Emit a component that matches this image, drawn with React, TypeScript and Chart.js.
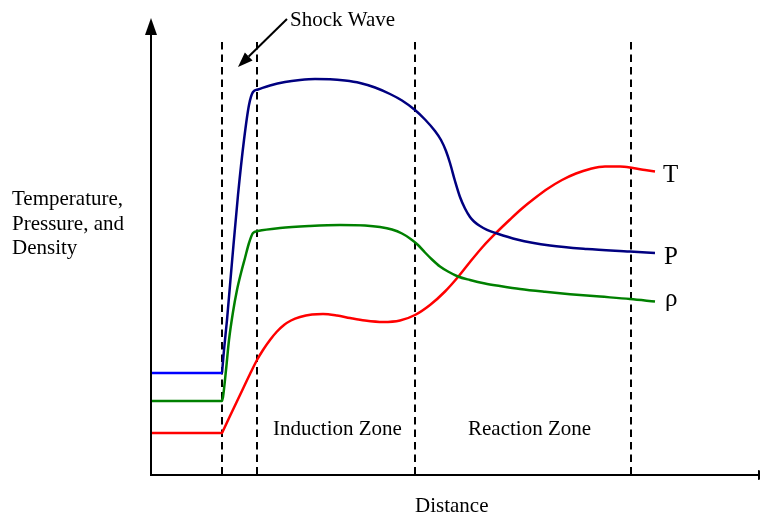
import React, { useEffect, useRef } from 'react';
import { Chart, registerables } from 'chart.js';

Chart.register(...registerables);

// Distance (arbitrary units) and values (arbitrary units)
const pressureX = [0, 72, 72.3, 74, 77, 82, 88, 94, 99, 103, 108, 120, 135, 150, 165, 180, 195, 210, 225, 240, 252, 265, 275, 285, 291, 296, 300, 305, 310, 315, 320, 324, 330, 337, 347, 367, 400, 437, 480, 505];
const pressureY = [101, 101, 104.5, 124, 154, 212, 279, 334, 369, 382, 384.5, 388.5, 392, 394, 395, 394.8, 393.5, 391, 386.5, 380, 373.5, 364, 354.5, 343, 334, 323, 311, 293, 277, 265.5, 257, 252.5, 248, 244.2, 240.5, 234.5, 228.5, 225, 222.5, 221];

const densityX = [0, 72, 72.3, 73, 76, 79, 83, 87, 91, 95, 99, 103, 108, 130, 160, 190, 215, 230, 242, 252, 260, 268, 275, 282, 290, 298, 308, 320, 335, 350, 370, 395, 420, 450, 480, 505];
const densityY = [73, 73, 74.2, 77, 104, 134, 162, 184, 201, 216, 231, 241, 243, 246, 248, 249, 248.5, 247, 244.5, 240.5, 235.5, 229, 221.5, 214.5, 207.5, 202.5, 197.5, 194, 190.5, 188, 185, 182.2, 179.8, 177.4, 175, 172.5];

const temperatureX = [0, 72, 72.3, 80, 90, 100, 107, 113, 120, 127, 134, 141, 150, 162, 173, 187, 200, 215, 233, 250, 265, 280, 295, 308, 320, 333, 347, 360, 372, 385, 398, 412, 426, 440, 455, 470, 483, 495, 505];
const temperatureY = [41, 41, 41.6, 58, 79, 100, 114, 124, 134, 142.5, 149, 153.5, 157, 159.5, 160, 158.5, 156, 153.5, 152, 153.5, 159, 169, 182.5, 197, 212, 227.5, 242, 254.5, 265.5, 276, 285.5, 294, 300.5, 305, 307.5, 307.5, 306, 304, 302.5];

const zoneBoundaries = [72, 107, 265, 481];
const curveLabels = ['T', 'P', 'ρ'];
const zoneLabels = ['Induction Zone', 'Reaction Zone'];
const yAxisLabel = ['Temperature,', 'Pressure, and', 'Density'];
const xAxisLabel = 'Distance';
const shockLabel = 'Shock Wave';

const FONT = '"Liberation Serif", "Times New Roman", serif';

const toPoints = (xs: number[], ys: number[]) => xs.map((x, i) => ({ x, y: ys[i] }));

const decor = {
  id: 'decor',
  beforeDatasetsDraw(chart: any) {
    const { ctx } = chart;
    const sx = chart.scales.x;
    const sy = chart.scales.y;
    ctx.save();
    ctx.strokeStyle = '#000';
    ctx.lineWidth = 2;
    ctx.setLineDash([7.5, 5]);
    zoneBoundaries.forEach((b) => {
      const px = Math.round(sx.getPixelForValue(b));
      ctx.beginPath();
      ctx.moveTo(px, sy.getPixelForValue(432));
      ctx.lineTo(px, sy.getPixelForValue(0));
      ctx.stroke();
    });
    ctx.restore();
  },
  afterDatasetsDraw(chart: any) {
    const { ctx, chartArea } = chart;
    const sx = chart.scales.x;
    const sy = chart.scales.y;
    const X = (v: number) => sx.getPixelForValue(v);
    const Y = (v: number) => sy.getPixelForValue(v);
    ctx.save();
    ctx.strokeStyle = '#000';
    ctx.fillStyle = '#000';
    ctx.lineWidth = 2;
    ctx.setLineDash([]);
    const ax = chartArea.left + 1;
    const ay = chartArea.bottom + 1;
    // y axis
    ctx.beginPath();
    ctx.moveTo(ax, ay);
    ctx.lineTo(ax, chartArea.top + 14);
    ctx.stroke();
    ctx.beginPath();
    ctx.moveTo(ax, chartArea.top - 2);
    ctx.lineTo(ax - 6, chartArea.top + 15);
    ctx.lineTo(ax + 6, chartArea.top + 15);
    ctx.closePath();
    ctx.fill();
    // x axis
    ctx.beginPath();
    ctx.moveTo(chartArea.left, ay);
    ctx.lineTo(chartArea.right + 5, ay);
    ctx.stroke();
    ctx.beginPath();
    ctx.moveTo(chartArea.right + 3, ay - 5);
    ctx.lineTo(chartArea.right + 3, ay + 5);
    ctx.lineTo(chartArea.right + 20, ay);
    ctx.closePath();
    ctx.fill();

    // shock wave arrow
    const tx = X(137), ty = Y(455);
    const hx = X(88), hy = Y(407);
    const dx = hx - tx, dy = hy - ty;
    const len = Math.hypot(dx, dy);
    const ux = dx / len, uy = dy / len;
    const bx = hx - ux * 15, by = hy - uy * 15;
    ctx.beginPath();
    ctx.moveTo(tx, ty);
    ctx.lineTo(bx, by);
    ctx.stroke();
    ctx.beginPath();
    ctx.moveTo(hx, hy);
    ctx.lineTo(bx - uy * 5.5, by + ux * 5.5);
    ctx.lineTo(bx + uy * 5.5, by - ux * 5.5);
    ctx.closePath();
    ctx.fill();

    // texts
    ctx.textBaseline = 'alphabetic';
    ctx.textAlign = 'left';
    ctx.font = `21px ${FONT}`;
    ctx.fillText(shockLabel, X(140), Y(448));
    ctx.fillText(zoneLabels[0], X(123), Y(39));
    ctx.fillText(zoneLabels[1], X(318), Y(39));
    ctx.fillText(xAxisLabel, 415, 512);
    yAxisLabel.forEach((t, i) => ctx.fillText(t, 12, 205 + i * 24.5));

    ctx.font = `25px ${FONT}`;
    ctx.fillText(curveLabels[0], X(513), Y(292));
    ctx.fillText(curveLabels[1], X(514), Y(210));
    ctx.fillText(curveLabels[2], X(515), Y(168));
    ctx.restore();
  },
};

export default function App() {
  const ref = useRef<HTMLCanvasElement | null>(null);
  useEffect(() => {
    if (!ref.current) return;
    const chart = new Chart(ref.current, {
      type: 'line',
      data: {
        datasets: [
          {
            label: 'P',
            data: toPoints(pressureX, pressureY),
            borderColor: '#000080',
            segment: {
              borderColor: (c: any) => (c.p1.parsed.x <= 72 ? '#0000ff' : '#000080'),
            },
            borderWidth: 2.5,
            cubicInterpolationMode: 'monotone',
            pointRadius: 0,
            fill: false,
          },
          {
            label: 'ρ',
            data: toPoints(densityX, densityY),
            borderColor: '#008000',
            borderWidth: 2.5,
            cubicInterpolationMode: 'monotone',
            pointRadius: 0,
            fill: false,
          },
          {
            label: 'T',
            data: toPoints(temperatureX, temperatureY),
            borderColor: '#ff0000',
            borderWidth: 2.5,
            cubicInterpolationMode: 'monotone',
            pointRadius: 0,
            fill: false,
          },
        ],
      },
      options: {
        responsive: false,
        animation: false,
        devicePixelRatio: 1,
        layout: { padding: { left: 150, right: 5, top: 20, bottom: 40 } },
        scales: {
          x: { type: 'linear', min: 0, max: 605, display: false },
          y: { type: 'linear', min: 0, max: 454, display: false },
        },
        plugins: {
          legend: { display: false },
          tooltip: { enabled: false },
          title: { display: false },
        },
        elements: { point: { radius: 0 } },
      },
      plugins: [decor],
    } as any);
    return () => chart.destroy();
  }, []);
  return (
    <div style={{ position: 'fixed', left: 0, top: 0, width: 760, height: 514, background: '#fff' }}>
      <canvas ref={ref} width={760} height={514} />
    </div>
  );
}
